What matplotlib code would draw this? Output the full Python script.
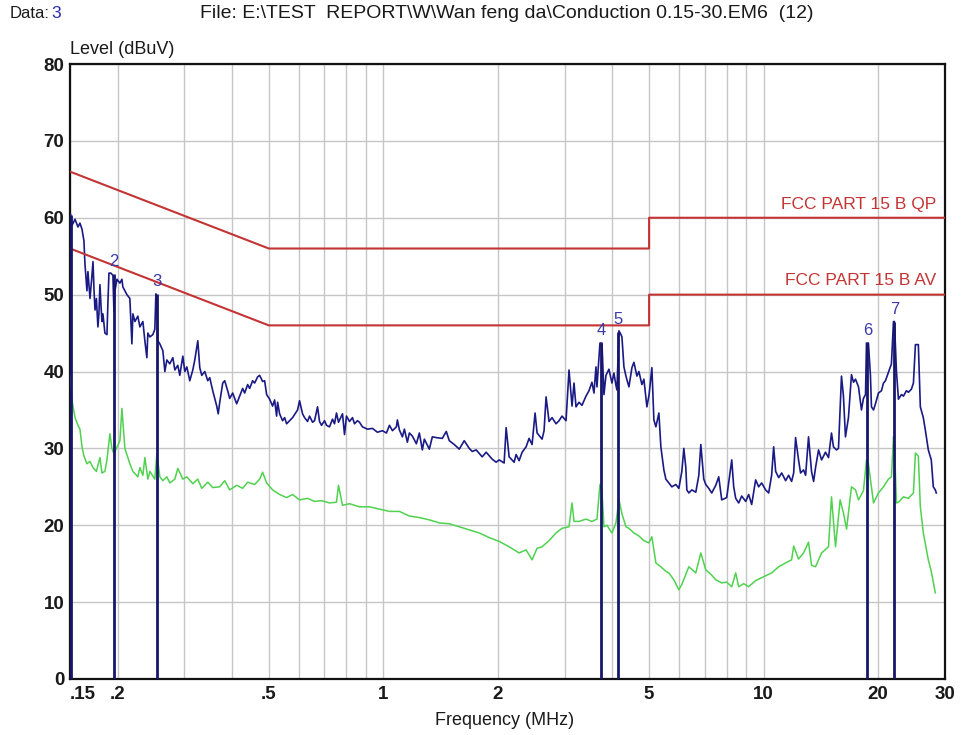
import matplotlib.pyplot as plt

plt.rcParams['font.family'] = ['Liberation Sans', 'DejaVu Sans']

# limit lines, MHz / dBuV
qp_freq = [0.15, 0.5, 5.0, 5.0, 30.0]
qp_level = [66, 56, 56, 60, 60]
av_freq = [0.15, 0.5, 5.0, 5.0, 30.0]
av_level = [56, 46, 46, 50, 50]

# peak (QP) scan
pk_freq = [
    0.150, 0.1505, 0.1518, 0.1546, 0.1574, 0.1593, 0.1613, 0.1632, 0.1642, 0.1662,
    0.1672, 0.1693, 0.1710, 0.1724, 0.1735, 0.1745, 0.1760, 0.1776, 0.1787, 0.1798,
    0.1810, 0.1820, 0.1831, 0.1853, 0.1876, 0.1887, 0.1899, 0.1921, 0.1945, 0.1957,
    0.1969, 0.1993, 0.2029, 0.2054, 0.2066, 0.2091, 0.2117, 0.2155, 0.2182, 0.2195,
    0.2222, 0.2262, 0.2290, 0.2332, 0.2360, 0.2389, 0.2403, 0.2433, 0.2477, 0.2507,
    0.2523, 0.2538, 0.2553, 0.2584, 0.2632, 0.2664, 0.2696, 0.2745, 0.2796, 0.2830,
    0.2881, 0.2916, 0.2970, 0.3006, 0.3043, 0.3098, 0.3155, 0.3193, 0.3252, 0.3291,
    0.3331, 0.3392, 0.3454, 0.3496, 0.3560, 0.3647, 0.3680, 0.3714, 0.3782, 0.3828,
    0.3897, 0.3945, 0.4017, 0.4115, 0.4191, 0.4267, 0.4319, 0.4398, 0.4452, 0.4533,
    0.4588, 0.4672, 0.4729, 0.4815, 0.4874, 0.4934, 0.5024, 0.5115, 0.5178, 0.5241,
    0.5273, 0.5337, 0.5434, 0.5501, 0.5568, 0.5669, 0.5773, 0.5950, 0.6022, 0.6132,
    0.6207, 0.6321, 0.6398, 0.6515, 0.6594, 0.6674, 0.6715, 0.6796, 0.6879, 0.7005,
    0.7091, 0.7220, 0.7352, 0.7442, 0.7532, 0.7624, 0.7811, 0.7906, 0.8002, 0.8149,
    0.8298, 0.8399, 0.8552, 0.8656, 0.8814, 0.9085, 0.9363, 0.9651, 0.9947, 1.019,
    1.038, 1.057, 1.0825, 1.089, 1.1023, 1.1225, 1.1361, 1.1569, 1.171, 1.1924,
    1.2216, 1.2439, 1.2666, 1.2821, 1.3214, 1.3456, 1.3784, 1.4293, 1.4643, 1.4911,
    1.5368, 1.5839, 1.6324, 1.6824, 1.7132, 1.755, 1.8198, 1.8643, 1.9332, 1.9805,
    2.0167, 2.0786, 2.1039, 2.1423, 2.2081, 2.235, 2.2758, 2.3175, 2.3742, 2.4176,
    2.4618, 2.5068, 2.5374, 2.6153, 2.6471, 2.6793, 2.7283, 2.7782, 2.8462, 2.8983,
    2.9513, 3.0236, 3.0789, 3.1352, 3.1733, 3.2119, 3.2706, 3.3304, 3.412, 3.4744,
    3.5379, 3.581, 3.6246, 3.6465, 3.7133, 3.7585, 3.8042, 3.8504, 3.921, 3.9927,
    4.0413, 4.0905, 4.1154, 4.1655, 4.2162, 4.2417, 4.2934, 4.3456, 4.4251, 4.5061,
    4.561, 4.6443, 4.7009, 4.7869, 4.8451, 4.9338, 5.0, 5.0851, 5.1471, 5.2096,
    5.305, 5.3695, 5.4677, 5.5342, 5.6355, 5.7387, 5.8791, 5.9868, 6.0963, 6.1705,
    6.2455, 6.2835, 6.36, 6.4764, 6.6349, 6.7563, 6.8385, 6.963, 7.047, 7.176,
    7.307, 7.487, 7.623, 7.762, 8.0, 8.247, 8.346, 8.448, 8.602, 8.76,
    8.975, 9.138, 9.306, 9.532, 9.707, 9.885, 10.127, 10.314, 10.50, 10.63,
    10.76, 10.96, 11.16, 11.43, 11.64, 11.85, 12.00, 12.14, 12.36, 12.51,
    12.74, 12.90, 13.13, 13.37, 13.54, 13.70, 13.95, 14.21, 14.55, 14.82,
    15.09, 15.27, 15.55, 15.74, 16.03, 16.22, 16.42, 16.72, 17.03, 17.24,
    17.45, 17.77, 18.09, 18.31, 18.54, 18.65, 18.87, 19.10, 19.22, 19.46,
    19.69, 20.05, 20.42, 20.67, 20.92, 21.30, 21.69, 21.96, 22.09, 22.36,
    22.63, 23.05, 23.33, 23.75, 24.04, 24.48, 24.78, 25.08, 25.53, 25.84,
    26.31, 26.63, 27.12, 27.61, 27.95, 28.29, 28.46,
]
pk_level = [
    57.5, 60.5, 59.0, 59.8, 58.8, 59.3, 58.5, 57.0, 54.0, 50.5,
    53.0, 49.5, 52.0, 54.3, 50.5, 48.0, 49.5, 45.8, 47.5, 51.3,
    48.5, 46.5, 47.5, 45.0, 44.8, 49.0, 52.8, 52.8, 52.5, 47.8,
    50.5, 52.0, 51.5, 52.0, 51.0, 50.5, 50.0, 49.5, 43.6, 47.5,
    46.5, 47.2, 45.8, 46.5, 44.0, 41.8, 45.0, 44.5, 44.8, 45.5,
    50.1, 49.0, 44.0, 43.6, 42.7, 40.0, 41.5, 41.0, 41.8, 40.2,
    40.8, 39.5, 42.0, 40.0, 40.6, 38.8, 40.2, 41.5, 44.0, 40.5,
    39.5, 40.0, 38.8, 39.2, 37.5, 35.5, 34.5, 36.0, 38.5, 38.8,
    37.5, 36.5, 37.2, 35.8, 36.8, 37.8, 37.2, 38.3, 37.8, 38.8,
    38.5, 39.3, 39.5, 38.7, 38.8, 37.0, 36.4, 35.5, 36.3, 34.2,
    36.0, 34.5, 33.6, 34.0, 33.2, 33.6, 34.0, 35.0, 36.2, 34.5,
    34.0, 33.5, 34.2, 33.4, 33.6, 34.8, 35.4, 33.5, 33.0, 33.6,
    33.0, 32.8, 33.8, 33.2, 34.6, 33.4, 34.5, 31.8, 34.2, 33.5,
    34.0, 33.2, 33.6, 33.4, 32.8, 32.5, 32.6, 32.1, 32.3, 32.0,
    33.0, 32.3, 32.8, 33.7, 32.4, 31.5, 32.5, 30.8, 32.0, 31.6,
    30.6, 32.0, 29.8, 31.2, 29.9, 31.5, 31.4, 31.3, 32.2, 31.0,
    30.5, 29.9, 31.0, 30.0, 29.6, 29.8, 28.9, 29.5, 28.6, 28.2,
    28.5, 28.1, 32.7, 28.9, 28.2, 29.2, 28.4, 29.5, 30.2, 31.3,
    30.5, 34.6, 32.0, 31.2, 32.3, 36.7, 33.5, 34.0, 33.2, 33.6,
    34.2, 33.6, 40.2, 35.5, 38.5, 35.4, 36.0, 35.6, 36.8, 37.5,
    38.6, 37.2, 40.6, 38.0, 43.7, 43.7, 37.0, 39.5, 40.3, 38.5,
    39.8, 38.2, 37.6, 45.3, 44.8, 44.5, 40.6, 39.4, 38.0, 40.5,
    41.2, 39.4, 40.0, 38.3, 39.0, 35.4, 37.0, 40.5, 33.7, 32.8,
    34.6, 30.2, 27.2, 26.0, 25.5, 25.0, 25.3, 24.8, 27.0, 30.0,
    27.5, 24.6, 24.2, 24.6, 24.3, 26.5, 30.5, 26.0, 25.3, 24.8,
    24.2, 25.2, 26.3, 23.3, 23.6, 28.5, 25.0, 23.5, 22.9, 23.8,
    23.1, 24.0, 22.7, 25.9, 25.0, 25.5, 24.6, 24.2, 26.5, 30.2,
    27.0, 26.2, 26.8, 25.8, 26.5, 25.7, 26.8, 31.4, 28.5, 26.8,
    27.2, 26.5, 31.5, 27.0, 25.7, 27.5, 29.8, 28.5, 29.5, 28.8,
    32.0, 30.2, 29.8, 30.0, 39.4, 36.8, 31.5, 34.0, 39.6, 38.6,
    39.0, 38.0, 35.0, 36.5, 37.0, 43.7, 43.7, 39.5, 35.4, 35.0,
    35.8, 37.2, 37.5, 38.5, 38.8, 39.9, 41.0, 46.5, 46.5, 40.0,
    36.4, 37.0, 36.8, 37.5, 37.3, 37.7, 38.5, 43.5, 43.5, 35.4,
    34.0, 32.4, 29.8, 28.5, 25.0, 24.6, 24.2,
]

# average scan
av_scan_freq = [
    0.150, 0.1505, 0.1518, 0.1546, 0.1574, 0.1593, 0.1613, 0.1632, 0.1662, 0.1693,
    0.1724, 0.1760, 0.1798, 0.1820, 0.1853, 0.1876, 0.1910, 0.1933, 0.1957, 0.2029,
    0.2054, 0.2091, 0.2155, 0.2195, 0.2262, 0.2290, 0.2332, 0.2360, 0.2403, 0.2433,
    0.2507, 0.2538, 0.2584, 0.2632, 0.2696, 0.2745, 0.2830, 0.2881, 0.2970, 0.3043,
    0.3155, 0.3252, 0.3331, 0.3454, 0.3560, 0.3714, 0.3828, 0.3945, 0.4115, 0.4267,
    0.4398, 0.4588, 0.4729, 0.4815, 0.4934, 0.5115, 0.5337, 0.5568, 0.5773, 0.6022,
    0.6321, 0.6594, 0.6879, 0.7220, 0.7532, 0.7624, 0.7811, 0.8149, 0.8656, 0.9195,
    0.9768, 1.0377, 1.1023, 1.1710, 1.2439, 1.3214, 1.4037, 1.4911, 1.5839, 1.6824,
    1.7871, 1.8984, 2.0167, 2.1423, 2.2758, 2.3742, 2.4618, 2.5374, 2.6153, 2.7283,
    2.8462, 2.9513, 3.0789, 3.1352, 3.1733, 3.2706, 3.4120, 3.5379, 3.6465, 3.7133,
    3.7585, 3.8042, 3.8739, 3.9927, 4.0905, 4.1655, 4.2417, 4.3456, 4.4251, 4.5610,
    4.7009, 4.8451, 4.9938, 5.0851, 5.2096, 5.3695, 5.5342, 5.6355, 5.8084, 5.9868,
    6.0963, 6.2455, 6.3600, 6.6349, 6.8385, 7.0470, 7.3070, 7.4870, 7.7620, 8.0,
    8.247, 8.448, 8.602, 8.866, 9.138, 9.532, 10.005, 10.50, 10.96, 11.43,
    11.85, 12.00, 12.36, 12.74, 13.13, 13.37, 13.70, 14.21, 14.82, 15.09,
    15.46, 15.90, 16.22, 16.53, 17.03, 17.45, 17.77, 18.31, 18.65, 18.87,
    19.46, 20.05, 20.67, 21.30, 21.69, 21.96, 22.09, 22.36, 22.63, 23.33,
    24.04, 24.78, 25.08, 25.53, 25.84, 26.31, 27.12, 27.61, 28.29,
]
av_scan_level = [
    38.0, 39.5, 36.3, 34.0, 33.0, 32.5, 30.2, 29.0, 28.0, 28.3,
    27.5, 27.0, 28.8, 26.8, 27.0, 28.5, 31.9, 30.0, 29.3, 31.0,
    35.2, 30.0, 28.0, 27.0, 26.3, 27.5, 26.5, 28.8, 26.0, 27.0,
    26.0, 29.3, 26.3, 25.8, 26.3, 25.5, 26.0, 27.4, 26.0, 26.3,
    25.4, 26.0, 24.8, 25.6, 24.9, 25.0, 25.8, 24.6, 25.2, 24.8,
    25.6, 25.3, 26.0, 26.9, 25.5, 24.6, 24.0, 23.6, 24.0, 23.3,
    23.5, 23.1, 23.2, 22.9, 23.0, 25.2, 22.6, 22.8, 22.4, 22.4,
    22.1, 21.8, 21.8, 21.2, 21.0, 20.7, 20.3, 20.2, 19.8, 19.4,
    19.0, 18.4, 17.9, 17.2, 16.4, 16.8, 15.5, 17.0, 17.2, 18.0,
    19.0, 19.6, 19.8, 22.9, 20.5, 20.5, 20.8, 20.5, 20.8, 25.3,
    24.5, 19.8, 20.0, 19.0, 20.3, 23.3, 21.5, 19.8, 19.6, 19.0,
    18.6, 18.0, 17.7, 18.5, 15.1, 14.6, 14.0, 13.8, 12.9, 11.6,
    12.3, 13.6, 14.6, 13.8, 16.4, 14.2, 13.5, 12.9, 12.5, 12.6,
    12.0, 13.8, 12.0, 12.4, 12.0, 12.8, 13.3, 13.8, 14.6, 15.1,
    15.5, 17.3, 15.6, 16.4, 17.8, 14.8, 14.6, 16.4, 17.2, 23.7,
    17.2, 23.3, 21.6, 19.5, 25.0, 24.6, 23.3, 24.5, 28.5, 28.0,
    22.9, 24.2, 25.0, 26.0, 26.3, 31.5, 30.5, 22.9, 23.0, 23.7,
    23.5, 24.2, 29.4, 29.0, 22.4, 19.0, 15.5, 14.0, 11.2,
]

# marker list
marker_id = ['1', '2', '3', '4', '5', '6', '7']
marker_freq = [0.1505, 0.1957, 0.2538, 3.736, 4.140, 18.76, 22.09]
marker_level = [60.3, 52.7, 50.1, 43.7, 45.2, 43.7, 46.5]

x_major = [0.15, 0.2, 0.5, 1, 2, 5, 10, 20, 30]
x_major_labels = ['.15', '.2', '.5', '1', '2', '5', '10', '20', '30']
x_minor = [0.3, 0.4, 0.6, 0.7, 0.8, 0.9, 3, 4, 6, 7, 8, 9]
y_ticks = [0, 10, 20, 30, 40, 50, 60, 70, 80]

trace_blue = '#1a1a86'
trace_green = '#4fd24f'
limit_red = '#c43434'
text_dark = '#1a1a1a'

fig = plt.figure(figsize=(9.63, 7.35), dpi=100)
ax = fig.add_axes([0.0727, 0.0762, 0.9086, 0.8367])

ax.set_xscale('log')
ax.set_xlim(0.15, 30)
ax.set_ylim(0, 80)

ax.set_xticks(x_major)
ax.set_xticklabels(x_major_labels)
ax.set_xticks(x_minor, minor=True)
ax.set_xticklabels([], minor=True)
ax.set_yticks(y_ticks)
ax.tick_params(which='both', length=0, labelsize=13.5, labelcolor=text_dark)
ax.tick_params(axis='x', pad=5)
ax.tick_params(axis='y', pad=4)
for lab in ax.get_xticklabels() + ax.get_yticklabels():
    lab.set_fontweight('bold')
ax.get_xticklabels()[0].set_horizontalalignment('left')
ax.grid(which='both', color='#c6c6c6', linewidth=1.0)
ax.set_axisbelow(True)
for s in ax.spines.values():
    s.set_linewidth(1.6)
    s.set_color('#111111')

ax.plot(av_scan_freq, av_scan_level, color=trace_green, lw=1.1, zorder=3)
ax.plot(pk_freq, pk_level, color=trace_blue, lw=1.2, zorder=4)

ax.plot(qp_freq, qp_level, color=limit_red, lw=1.5, zorder=5)
ax.plot(av_freq, av_level, color=limit_red, lw=1.5, zorder=5)
ax.text(28.5, qp_level[-1] + 0.8, 'FCC PART 15 B QP', color=limit_red,
        fontsize=12.5, ha='right', va='bottom')
ax.text(28.5, av_level[-1] + 0.8, 'FCC PART 15 B AV', color=limit_red,
        fontsize=12.5, ha='right', va='bottom')

# marker lines from the floor up to each peak
ax.vlines(marker_freq, 0, marker_level, color='#16166a', lw=2.0, zorder=6)
for name, f, lv in zip(marker_id, marker_freq, marker_level):
    if name == '1':
        continue  # sits on the left axis, number not shown
    ax.text(f, lv + 0.6, name, color='#3a3aa8', fontsize=12,
            ha='center', va='bottom', zorder=7)

# header and axis titles
fig.text(0.0104, 0.981, 'Data:', fontsize=12, color=text_dark, va='center')
fig.text(0.0535, 0.981, '3', fontsize=12.5, color='#2a2ab0', va='center')
fig.text(0.2077, 0.981,
         'File: E:\\TEST  REPORT\\W\\Wan feng da\\Conduction 0.15-30.EM6  (12)',
         fontsize=14, color=text_dark, va='center')
fig.text(0.0727, 0.932, 'Level (dBuV)', fontsize=13, color=text_dark, va='center')
fig.text(0.524, 0.0204, 'Frequency (MHz)', fontsize=13, color=text_dark,
         ha='center', va='center')

fig.savefig('out.png', dpi=100)
